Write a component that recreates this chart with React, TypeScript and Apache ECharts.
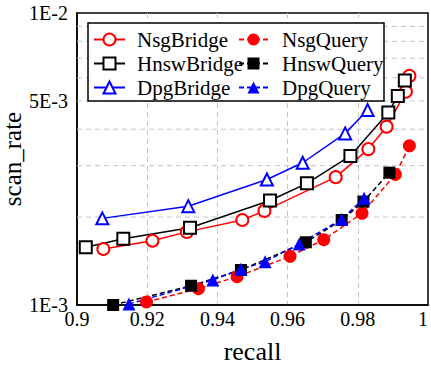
import React, { useEffect, useRef } from "react";
import * as echarts from "echarts";

const nsgBridgeRecall = [0.9075, 0.9215, 0.9313, 0.9471, 0.9534, 0.9737, 0.983, 0.9882, 0.9937, 0.9947];
const nsgBridgeRate = [1.555e-3, 1.66e-3, 1.78e-3, 1.955e-3, 2.1e-3, 2.74e-3, 3.42e-3, 4.08e-3, 5.38e-3, 6.09e-3];

const hnswBridgeRecall = [0.9025, 0.9132, 0.9322, 0.955, 0.9655, 0.9779, 0.9887, 0.9914, 0.9934];
const hnswBridgeRate = [1.576e-3, 1.687e-3, 1.84e-3, 2.28e-3, 2.61e-3, 3.24e-3, 4.56e-3, 5.2e-3, 5.87e-3];

const dpgBridgeRecall = [0.9072, 0.9317, 0.9541, 0.9643, 0.9764, 0.9828];
const dpgBridgeRate = [1.98e-3, 2.18e-3, 2.69e-3, 3.07e-3, 3.87e-3, 4.65e-3];

const nsgQueryRecall = [0.9198, 0.9346, 0.9456, 0.9607, 0.9703, 0.9812, 0.9907, 0.9947];
const nsgQueryRate = [1.024e-3, 1.137e-3, 1.25e-3, 1.468e-3, 1.674e-3, 2.06e-3, 2.8e-3, 3.51e-3];

const hnswQueryRecall = [0.9103, 0.9325, 0.9467, 0.9652, 0.9754, 0.9816, 0.989];
const hnswQueryRate = [1.0e-3, 1.164e-3, 1.318e-3, 1.64e-3, 1.955e-3, 2.26e-3, 2.84e-3];

const dpgQueryRecall = [0.9148, 0.9387, 0.9467, 0.9536, 0.9633, 0.9754, 0.9818];
const dpgQueryRate = [1.008e-3, 1.218e-3, 1.325e-3, 1.407e-3, 1.618e-3, 1.966e-3, 2.32e-3];

const xMin = 0.9;
const xMax = 1;
const minorGridValues = [0.002, 0.003, 0.004, 0.005, 0.006, 0.007, 0.008, 0.009];
const labeledMinor = 0.005;
const labeledMinorText = "5E-3";

const FONT = "Liberation Serif";
const GRID_GRAY = "#c4c4c4";

function pairs(xs: number[], ys: number[]) {
  return xs.map((x, i) => [x, ys[i]]);
}

export default function App() {
  const ref = useRef<HTMLDivElement>(null);
  useEffect(() => {
    if (!ref.current) return;
    const chart = echarts.init(ref.current, undefined, { renderer: "svg" });

    const solid = (name: string, color: string, symbol: string, xs: number[], ys: number[]) => ({
      name,
      type: "line",
      data: pairs(xs, ys),
      symbol,
      symbolSize: 12,
      showAllSymbol: true,
      clip: false,
      z: 3,
      lineStyle: { color, width: 1.5, type: "solid" },
      itemStyle: { color, borderColor: color, borderWidth: 1.5 },
    });
    const dashed = (name: string, color: string, symbol: string, size: number, xs: number[], ys: number[]) => ({
      name,
      type: "line",
      data: pairs(xs, ys),
      symbol,
      symbolSize: size,
      showAllSymbol: true,
      clip: false,
      z: 3,
      lineStyle: { color, width: 1.5, type: [5, 3] },
      itemStyle: { color, borderColor: color, borderWidth: 0 },
    });

    const gridSeries = minorGridValues.map((v) => ({
      name: "grid" + v,
      type: "line",
      silent: true,
      z: 1,
      symbol: "none",
      showSymbol: v === labeledMinor,
      symbolSize: 0,
      lineStyle: { color: GRID_GRAY, width: 1, type: [5, 4] },
      data: [
        v === labeledMinor
          ? {
              value: [xMin, v],
              symbol: "circle",
              symbolSize: 0,
              label: {
                show: true,
                position: "left",
                distance: 9,
                formatter: labeledMinorText,
                fontFamily: FONT,
                fontSize: 20,
                color: "#000",
              },
            }
          : [xMin, v],
        [xMax, v],
      ],
    }));

    const option: any = {
      animation: false,
      backgroundColor: "#fff",
      grid: {
        left: 77,
        right: 3,
        top: 13,
        bottom: 61,
        outerBoundsMode: "none",
        containLabel: false,
        show: true,
        borderColor: "#000",
        borderWidth: 1.5,
        backgroundColor: "transparent",
      },
      xAxis: {
        type: "value",
        min: xMin,
        max: xMax,
        interval: 0.02,
        name: "recall",
        nameLocation: "middle",
        nameGap: 33,
        nameMoveOverlap: false,
        nameTextStyle: { fontFamily: FONT, fontSize: 26, color: "#000" },
        axisLine: { show: true, lineStyle: { color: "#000", width: 1.5 } },
        axisTick: { show: false },
        axisLabel: {
          fontFamily: FONT,
          fontSize: 20,
          color: "#000",
          margin: 4,
          alignMaxLabel: "right",
          formatter: (v: number) => String(Math.round(v * 100) / 100),
        },
        splitLine: {
          show: true,
          showMinLine: false,
          showMaxLine: false,
          lineStyle: { color: GRID_GRAY, width: 1, type: [5, 4] },
        },
      },
      yAxis: {
        type: "log",
        logBase: 10,
        min: 0.001,
        max: 0.01,
        name: "scan_rate",
        nameLocation: "middle",
        nameGap: 52,
        nameMoveOverlap: false,
        nameTextStyle: { fontFamily: FONT, fontSize: 25, color: "#000" },
        axisLine: { show: true, lineStyle: { color: "#000", width: 1.5 } },
        axisTick: { show: false },
        axisLabel: {
          fontFamily: FONT,
          fontSize: 20,
          color: "#000",
          margin: 9,
          formatter: (v: number) => "1E" + Math.round(Math.log10(v)),
        },
        splitLine: { show: false },
      },
      legend: [
        {
          left: 93,
          top: 29,
          orient: "vertical",
          itemWidth: 31,
          itemHeight: 15,
          itemGap: 3,
          padding: 0,
          z: 5,
          data: ["NsgBridge", "HnswBridge", "DpgBridge"],
          textStyle: { fontFamily: FONT, fontSize: 21, color: "#000", lineHeight: 20, padding: [0, 0, 0, 7] },
        },
        {
          left: 238,
          top: 29,
          orient: "vertical",
          itemWidth: 29,
          itemHeight: 15,
          itemGap: 3,
          padding: 0,
          z: 5,
          data: ["NsgQuery", "HnswQuery", "DpgQuery"],
          textStyle: { fontFamily: FONT, fontSize: 21, color: "#000", lineHeight: 20, padding: [0, 0, 0, 9] },
        },
      ],
      graphic: [
        {
          type: "rect",
          z: 4,
          shape: { x: 88, y: 23, width: 296, height: 78 },
          style: { fill: "#fff", stroke: "#000", lineWidth: 1.5 },
          silent: true,
        },
      ],
      series: [
        ...gridSeries,
        solid("NsgBridge", "#ff0000", "emptyCircle", nsgBridgeRecall, nsgBridgeRate),
        dashed("NsgQuery", "#ff0000", "circle", 13, nsgQueryRecall, nsgQueryRate),
        solid("HnswBridge", "#000000", "emptyRect", hnswBridgeRecall, hnswBridgeRate),
        dashed("HnswQuery", "#000000", "rect", 12, hnswQueryRecall, hnswQueryRate),
        solid("DpgBridge", "#0000ff", "emptyTriangle", dpgBridgeRecall, dpgBridgeRate),
        dashed("DpgQuery", "#0000ff", "triangle", 13, dpgQueryRecall, dpgQueryRate),
      ],
    };
    chart.setOption(option);
    return () => chart.dispose();
  }, []);
  return <div ref={ref} style={{ position: "fixed", left: 0, top: 0, width: 431, height: 366 }} />;
}
